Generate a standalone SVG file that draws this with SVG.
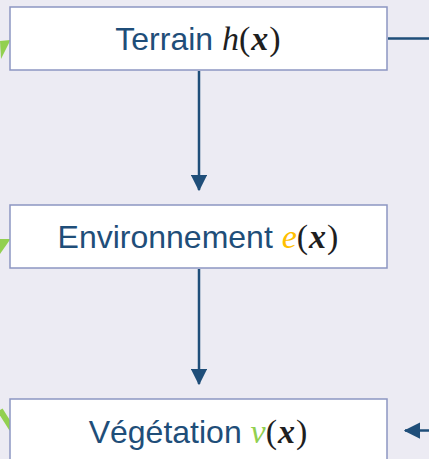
<svg xmlns="http://www.w3.org/2000/svg" width="429" height="459" viewBox="0 0 429 459">
<style>
.box{fill:#fff;stroke:#8C96C2;stroke-width:1.5}
.lbl{font-family:"Liberation Sans",Arial,sans-serif;font-size:32px;fill:#1F4E79}
.m{font-family:"Liberation Serif","DejaVu Serif",serif;font-style:italic;font-size:34px;fill:#1F1F1F}
.mb{font-family:"Liberation Serif","DejaVu Serif",serif;font-style:italic;font-weight:bold;font-size:34px;fill:#1F1F1F}
.p{font-family:"Liberation Serif","DejaVu Serif",serif;font-style:normal;font-size:34px;fill:#1F1F1F}
.con{stroke:#1F4E79;stroke-width:2.5;fill:none}
.g{stroke:#92D050;stroke-width:6;fill:none}
</style>
<defs>
<marker id="ah" markerWidth="6.5" markerHeight="6.5" refX="6" refY="3.25" orient="auto" markerUnits="strokeWidth"><path d="M0,0 L6.5,3.25 L0,6.5 z" fill="#1F4E79"/></marker>
</defs>
<rect width="429" height="459" fill="#ECEBF3"/>
<g id="connectors">
<line class="con" x1="199" y1="71" x2="199" y2="190" marker-end="url(#ah)"/>
<line class="con" x1="199" y1="269" x2="199" y2="384" marker-end="url(#ah)"/>
<line class="con" x1="388" y1="38.5" x2="429" y2="38.5"/>
<line class="con" x1="429" y1="430.5" x2="405" y2="430.5" marker-end="url(#ah)"/>
<path d="M0,41 L10.5,40 L1,59 z" fill="#92D050"/>
<path d="M0,239 L10.5,239 L0,254 z" fill="#92D050"/>
<line class="g" x1="0" y1="410" x2="12" y2="429"/>
</g>
<g id="terrain">
<rect class="box" x="10" y="7" width="377" height="63"/>
<text class="lbl" x="198" y="50" text-anchor="middle">Terrain <tspan class="m">h</tspan><tspan class="p">(</tspan><tspan class="mb" dx="1">x</tspan><tspan class="p" dx="1">)</tspan></text>
</g>
<g id="environnement">
<rect class="box" x="10" y="205" width="377" height="63"/>
<text class="lbl" x="198" y="248" text-anchor="middle">Environnement <tspan class="m" style="fill:#FFC000">e</tspan><tspan class="p">(</tspan><tspan class="mb" dx="1">x</tspan><tspan class="p" dx="1">)</tspan></text>
</g>
<g id="vegetation">
<rect class="box" x="10" y="399" width="377" height="70"/>
<text class="lbl" x="198" y="443" text-anchor="middle">Végétation <tspan class="m" style="fill:#92D050">v</tspan><tspan class="p">(</tspan><tspan class="mb" dx="1">x</tspan><tspan class="p" dx="1">)</tspan></text>
</g>
</svg>
